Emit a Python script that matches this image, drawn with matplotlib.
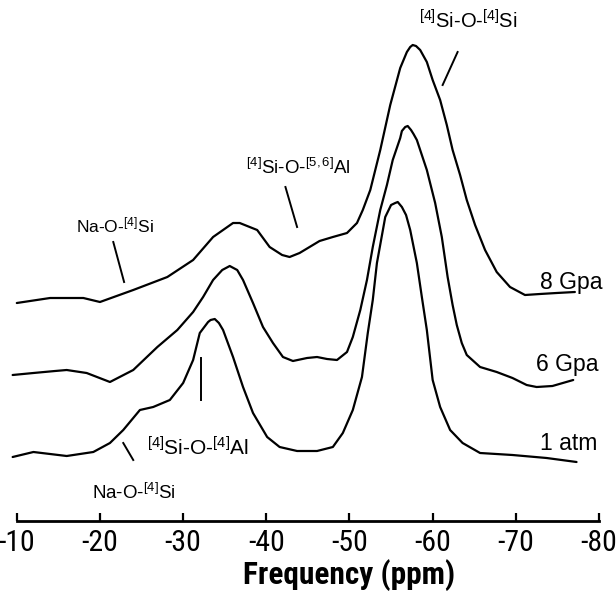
import matplotlib
matplotlib.use('Agg')
import matplotlib.pyplot as plt
from matplotlib import font_manager
from matplotlib.font_manager import FontProperties

# ---------------- data ----------------
ppm_8gpa = [-10.0, -14.0, -18.0, -20.0, -24.0, -28.1, -31.2, -33.6, -36.0, -36.8,
            -38.9, -40.4, -41.9, -42.8, -44.0, -45.2, -46.4, -48.0, -49.7, -50.9,
            -51.6, -52.5, -53.7, -54.9, -56.1, -56.9, -57.3, -57.6, -58.0, -58.5,
            -59.3, -60.0, -60.9, -61.7, -62.4, -63.3, -64.1, -65.1, -66.3, -67.7,
            -69.3, -71.1, -72.9, -74.9, -77.1]
int_8gpa = [218, 223, 223, 219, 231, 244, 261, 284, 298, 298,
            291, 274, 266, 264, 268, 274, 280, 284, 288, 298,
            311, 331, 371, 416, 453, 469, 474, 476, 475, 471,
            459, 441, 421, 396, 371, 346, 321, 296, 271, 249,
            234, 226, 227, 228, 229]

ppm_6gpa = [-9.5, -12.0, -14.6, -16.0, -18.4, -21.2, -24.0, -26.9, -29.3, -31.2,
            -32.4, -33.6, -34.7, -35.6, -36.5, -37.2, -38.4, -39.6, -40.8, -42.0,
            -43.2, -44.9, -46.1, -47.3, -48.5, -49.7, -50.4, -51.3, -52.1, -52.8,
            -53.7, -54.5, -55.2, -56.1, -56.3, -56.7, -57.0, -57.4, -57.7, -58.1,
            -59.3, -60.3, -61.1, -61.8, -62.4, -62.9, -63.5, -64.1, -65.7, -67.7,
            -69.6, -71.3, -72.5, -74.4, -76.9]
int_6gpa = [146, 148, 150, 151, 148, 139, 151, 174, 191, 209,
            224, 241, 251, 255, 251, 241, 218, 194, 178, 164,
            160, 163, 164, 162, 161, 169, 184, 211, 241, 274,
            311, 336, 361, 383, 390, 394, 395, 391, 387, 381,
            351, 318, 284, 244, 216, 196, 178, 166, 154, 149,
            143, 136, 134, 135, 141]

ppm_1atm = [-9.5, -12.0, -16.0, -19.2, -21.2, -22.8, -24.8, -26.4, -28.4, -30.0,
            -31.2, -32.0, -33.0, -33.3, -33.8, -34.3, -34.8, -36.0, -37.2, -38.4,
            -40.1, -41.6, -43.7, -46.1, -48.0, -49.2, -50.4, -51.5, -52.2, -52.8,
            -53.3, -54.3, -55.0, -55.5, -55.8, -56.3, -56.8, -57.3, -58.1, -58.7,
            -59.3, -60.0, -60.9, -62.1, -63.6, -65.7, -69.6, -73.7, -77.3]
int_1atm = [64, 69, 65, 69, 78, 91, 111, 114, 121, 138,
            161, 188, 199, 201, 202, 198, 191, 164, 134, 108,
            84, 74, 70, 70, 74, 88, 111, 144, 188, 221,
            258, 304, 316, 318, 319, 314, 306, 291, 258, 224,
            191, 141, 114, 91, 78, 68, 66, 63, 59]

series_names = ['8 Gpa', '6 Gpa', '1 atm']
tick_values = [-10, -20, -30, -40, -50, -60, -70, -80]
tick_labels = ['-10', '-20', '-30', '-40', '-50', '-60', '-70', '-80']
x_label = 'Frequency (ppm)'

# ---------------- fonts ----------------
def find_path(fp):
    try:
        return font_manager.findfont(fp, fallback_to_default=False)
    except Exception:
        return None

def narrow_props(bold=False):
    w = 'bold' if bold else 'normal'
    for fam in ['Liberation Sans Narrow', 'Arial Narrow', 'Roboto Condensed',
                'Open Sans Condensed', 'Noto Sans Condensed']:
        p = find_path(FontProperties(family=fam, weight=w))
        if p:
            return FontProperties(family=fam, weight=w)
    for fam in ['Liberation Sans', 'Roboto', 'Noto Sans', 'Open Sans', 'DejaVu Sans']:
        p = find_path(FontProperties(family=fam, weight=w, stretch='condensed'))
        if p and ('ondensed' in p or 'arrow' in p):
            return FontProperties(fname=p)
    return FontProperties(family='Liberation Sans', weight=w)

fp_ticks = narrow_props(False)
fp_xlab = narrow_props(True)

plt.rcParams['font.family'] = ['Liberation Sans', 'DejaVu Sans']
plt.rcParams['axes.unicode_minus'] = False
plt.rcParams['mathtext.fontset'] = 'custom'
plt.rcParams['mathtext.rm'] = 'Liberation Sans'
plt.rcParams['mathtext.it'] = 'Liberation Sans'
plt.rcParams['mathtext.bf'] = 'Liberation Sans:bold'

# ---------------- figure ----------------
W, H = 616, 591
fig = plt.figure(figsize=(W / 100, H / 100), dpi=100)
ax = fig.add_axes([16.8 / W, 70 / H, 582.2 / W, 521 / H])
ax.set_xlim(-10, -80)
ax.set_ylim(0, 521)
for s in ['left', 'right', 'top']:
    ax.spines[s].set_visible(False)
ax.spines['bottom'].set_linewidth(2.0)
ax.set_yticks([])
ax.set_xticks(tick_values)
ax.set_xticklabels(tick_labels)
for lab in ax.get_xticklabels():
    lab.set_fontproperties(fp_ticks)
    lab.set_fontsize(20)
ax.tick_params(axis='x', direction='in', length=5.5, width=1.6, pad=6)
ax.patch.set_visible(False)

lw = 1.6
for xs, ys in [(ppm_8gpa, int_8gpa), (ppm_6gpa, int_6gpa), (ppm_1atm, int_1atm)]:
    ax.plot(xs, ys, color='black', lw=lw, clip_on=False,
            solid_joinstyle='round', solid_capstyle='round')

# series labels
for name, (x, y) in zip(series_names, [(-76.7, 238), (-76.2, 156), (-76.3, 78)]):
    ax.text(x, y, name, fontsize=16.5, ha='center', va='center')

sup = lambda s: r'$^{\mathregular{' + s + '}}$'

# peak annotations + leader lines
ann = [
    (sup('[4]') + 'Si-O-' + sup('[4]') + 'Si', -64.3, 500, 14.5, ((-63.0, -61.2), (469, 436))),
    (sup('[4]') + 'Si-O-' + sup('[5,6]') + 'Al', -43.8, 353, 13.5, ((-42.3, -43.7), (334, 294))),
    ('Na-O-' + sup('[4]') + 'Si', -21.8, 296, 12.5, ((-21.6, -22.9), (279, 239))),
    (sup('[4]') + 'Si-O-' + sup('[4]') + 'Al', -31.8, 73, 15, ((-32.2, -32.2), (163, 121))),
    ('Na-O-' + sup('[4]') + 'Si', -24.1, 28, 13.5, ((-22.8, -24.0), (78, 61))),
]
for txt, x, y, fs, (lx, ly) in ann:
    ax.text(x, y, txt, fontsize=fs, ha='center', va='center', clip_on=False)
    ax.plot(lx, ly, color='black', lw=1.4, clip_on=False)

xl = fig.text(349 / W, (H - 584) / H, x_label, fontproperties=fp_xlab,
              ha='center', va='baseline')
xl.set_fontsize(22)

# fit text widths to the reference widths (in pixels)
renderer = fig.canvas.get_renderer()
def fit(t, target):
    w = t.get_window_extent(renderer).width
    if w > 0:
        t.set_fontsize(t.get_fontsize() * target / w)

fit(xl, 212)
ticklabs = ax.get_xticklabels()
w20 = ticklabs[1].get_window_extent(renderer).width
if w20 > 0:
    fs = ticklabs[1].get_fontsize() * 37 / w20
    for lab in ticklabs:
        lab.set_fontsize(fs)

fig.savefig('out.png', dpi=100, facecolor='white')
